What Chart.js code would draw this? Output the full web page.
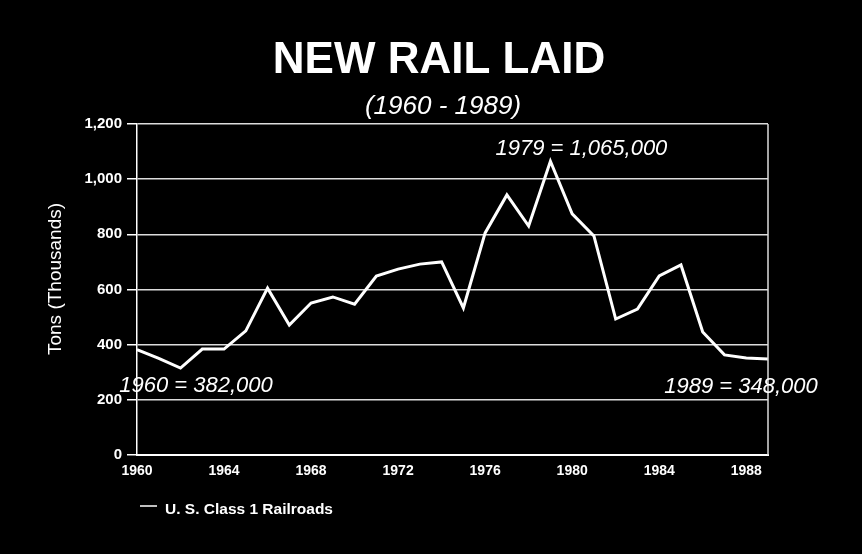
<!DOCTYPE html>
<html lang="en">
<head>
    <meta charset="UTF-8">
    <title>New Rail Laid</title>
    <script src="https://cdn.jsdelivr.net/npm/chart.js"></script>
    <style>
        body { margin: 0; background: #000; }
        #wrap { width: 862px; height: 554px; }
    </style>
</head>
<body>
    <div id="wrap"><canvas id="railChart" width="862" height="554"></canvas></div>
    <script>
        // New rail laid by U.S. Class 1 railroads, thousands of tons
        const years = [1960, 1961, 1962, 1963, 1964, 1965, 1966, 1967, 1968, 1969,
                       1970, 1971, 1972, 1973, 1974, 1975, 1976, 1977, 1978, 1979,
                       1980, 1981, 1982, 1983, 1984, 1985, 1986, 1987, 1988, 1989];
        const tons = [382, 350, 315, 384, 384, 450, 605, 471, 551, 573,
                      547, 649, 674, 692, 700, 533, 805, 943, 830, 1065,
                      874, 794, 493, 529, 649, 689, 446, 363, 352, 348];
        const xTicks = [1960, 1964, 1968, 1972, 1976, 1980, 1984, 1988];
        const seriesName = 'U. S. Class 1 Railroads';

        // callouts: year, value, text
        const callouts = [
            { year: 1960, value: 382, text: '1960 = 382,000', dx: 59, dy: 42 },
            { year: 1979, value: 1065, text: '1979 = 1,065,000', dx: 31, dy: -6 },
            { year: 1989, value: 348, text: '1989 = 348,000', dx: -27, dy: 34 }
        ];

        const FONT = '"Liberation Sans", Arial, sans-serif';

        const decorations = {
            id: 'decorations',
            beforeDraw(chart) {
                const c = chart.ctx;
                c.save();
                c.fillStyle = '#000';
                c.fillRect(0, 0, chart.width, chart.height);
                c.restore();
            },
            afterDraw(chart) {
                const c = chart.ctx;
                const area = chart.chartArea;
                const xs = chart.scales.x, ys = chart.scales.y;
                c.save();
                c.fillStyle = '#fff';
                c.textAlign = 'center';
                c.textBaseline = 'alphabetic';

                c.font = 'bold 44px ' + FONT;
                c.fillText('NEW RAIL LAID', 439, 73);
                c.font = 'italic 26px ' + FONT;
                c.fillText('(1960 - 1989)', 443, 114);

                // right frame line
                c.strokeStyle = '#dcdcdc';
                c.lineWidth = 1.5;
                c.beginPath();
                c.moveTo(area.right, area.top);
                c.lineTo(area.right, area.bottom);
                c.stroke();

                // y axis title
                c.save();
                c.translate(56, 279);
                c.rotate(-Math.PI / 2);
                c.textBaseline = 'middle';
                c.font = '19px ' + FONT;
                c.fillText('Tons (Thousands)', 0, 0);
                c.restore();

                // callouts
                c.font = 'italic 22px ' + FONT;
                callouts.forEach(a => {
                    c.fillText(a.text, xs.getPixelForValue(a.year) + a.dx,
                        ys.getPixelForValue(a.value) + a.dy);
                });

                // legend
                c.strokeStyle = '#fff';
                c.lineWidth = 1.5;
                c.beginPath();
                c.moveTo(140, 506);
                c.lineTo(157, 506);
                c.stroke();
                c.textAlign = 'left';
                c.textBaseline = 'middle';
                c.font = 'bold 15.5px ' + FONT;
                c.fillText(seriesName, 165, 510);
                c.restore();
            }
        };

        new Chart(document.getElementById('railChart'), {
            type: 'line',
            data: {
                datasets: [{
                    label: seriesName,
                    data: years.map((y, i) => ({ x: y, y: tons[i] })),
                    borderColor: '#fff',
                    borderWidth: 3,
                    pointRadius: 0,
                    tension: 0
                }]
            },
            options: {
                responsive: false,
                animation: false,
                layout: { padding: { top: 124, right: 94, left: 0, bottom: 0 } },
                plugins: { legend: { display: false }, tooltip: { enabled: false } },
                scales: {
                    x: {
                        type: 'linear',
                        min: 1960,
                        max: 1989,
                        afterBuildTicks: s => { s.ticks = xTicks.map(v => ({ value: v })); },
                        afterFit: s => { s.height = 99; },
                        grid: { display: false, drawTicks: false },
                        border: { display: true, color: '#fff', width: 2 },
                        ticks: {
                            color: '#fff',
                            padding: 8,
                            maxRotation: 0,
                            font: { family: FONT, size: 14, weight: 'bold' },
                            callback: v => String(v)
                        }
                    },
                    y: {
                        min: 0,
                        max: 1200,
                        afterFit: s => { s.width = 137; },
                        grid: { color: '#dcdcdc', lineWidth: 1.5, tickLength: 10, tickColor: '#fff' },
                        border: { display: true, color: '#fff', width: 1.5 },
                        ticks: {
                            stepSize: 200,
                            color: '#fff',
                            padding: 5,
                            font: { family: FONT, size: 15, weight: 'bold' }
                        }
                    }
                }
            },
            plugins: [decorations]
        });
    </script>
</body>
</html>
